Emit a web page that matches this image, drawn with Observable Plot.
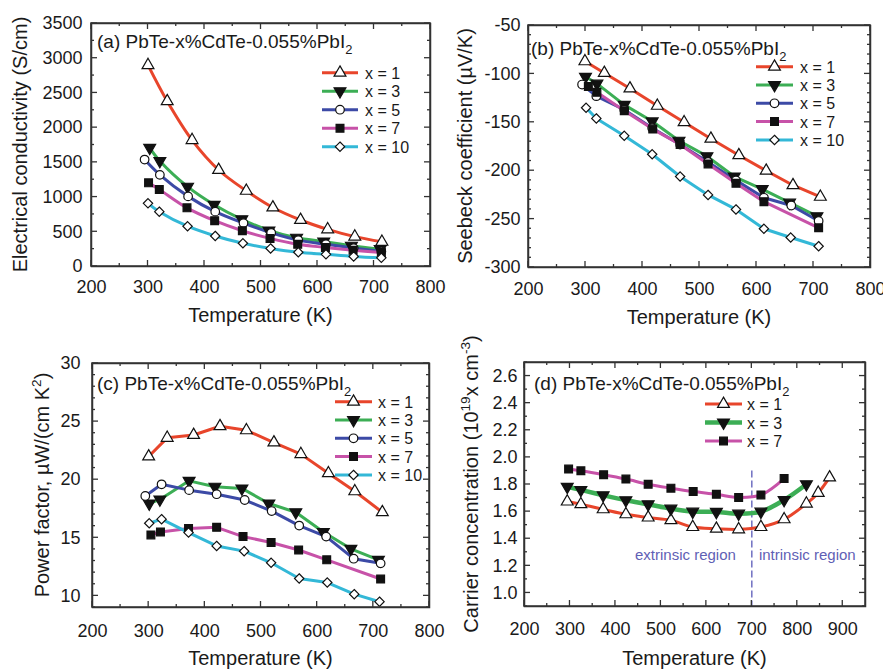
<!DOCTYPE html>
<html><head><meta charset="utf-8">
<script src="https://cdn.jsdelivr.net/npm/d3@7"></script>
<script src="https://cdn.jsdelivr.net/npm/@observablehq/plot@0.6"></script>
<style>
body{margin:0;background:#fff;}
#fig{position:relative;width:883px;height:669px;overflow:hidden;background:#fff;}
.panel{position:absolute;}
.panel svg{overflow:visible;background:transparent;max-width:none;}
</style></head><body><div id="fig"></div>
<script>
// ---------- data ----------
const seriesNames = ["x = 1", "x = 3", "x = 5", "x = 7", "x = 10"];

// (a) electrical conductivity (S/cm)
const condT1 = [300, 334, 378, 425, 474, 521, 570, 618, 666, 714];
const cond1  = [2900, 2380, 1820, 1390, 1090, 850, 670, 535, 430, 355];
const condT3 = [303, 321, 370, 417, 466, 514, 563, 611, 660, 711];
const cond3  = [1710, 1520, 1150, 890, 680, 520, 415, 360, 300, 250];
const condT5 = [294, 321, 371, 419, 469, 518, 566, 615, 664, 713];
const cond5  = [1540, 1320, 1010, 790, 625, 485, 380, 320, 265, 215];
const condT7 = [301, 320, 369, 418, 467, 516, 565, 614, 663, 713];
const cond7  = [1205, 1110, 845, 660, 515, 405, 320, 275, 235, 200];
const condT10 = [300, 320, 370, 419, 468, 517, 566, 615, 664, 713];
const cond10  = [910, 790, 580, 440, 335, 260, 205, 175, 145, 125];

// (b) Seebeck coefficient (µV/K)
const seeT1 = [299, 333, 378, 426, 473, 520, 569, 617, 664, 712];
const see1  = [-87, -99, -115, -133, -150, -167, -184, -200, -215, -227];
const seeT3 = [300, 320, 368, 417, 464, 513, 561, 610, 658, 706];
const see3  = [-103, -110, -132, -149, -169, -185, -206, -219, -233, -247];
const seeT5 = [294, 319, 368, 417, 466, 515, 564, 613, 661, 709];
const see5  = [-111, -123, -137, -156, -173, -191, -210, -228, -236, -252];
const seeT7 = [305, 320, 368, 418, 466, 515, 564, 613, 709];
const see7  = [-113, -119, -138, -157, -173, -193, -213, -232, -259];
const seeT10 = [301, 319, 368, 417, 466, 515, 564, 613, 660, 709];
const see10  = [-135, -146, -164, -183, -206, -225, -240, -260, -269, -278];

// (c) power factor (µW/(cm K^2))
const pfT1 = [300, 333, 380, 427, 474, 523, 571, 620, 667, 716];
const pf1  = [22.0, 23.6, 23.85, 24.6, 24.25, 23.2, 22.2, 20.55, 19.0, 17.2];
const pfT3 = [301, 320, 372, 418, 466, 514, 562, 611, 660, 709];
const pf3  = [17.95, 18.3, 19.9, 19.4, 19.25, 17.95, 17.2, 15.5, 14.05, 13.1];
const pfT5 = [294, 323, 372, 421, 471, 519, 568, 616, 665, 713];
const pf5  = [18.6, 19.6, 19.1, 18.75, 18.25, 17.3, 16.05, 15.1, 13.2, 12.8];
const pfT7 = [304, 321, 371, 421, 468, 518, 567, 617, 713];
const pf7  = [15.25, 15.5, 15.8, 15.9, 15.1, 14.6, 13.95, 13.1, 11.45];
const pfT10 = [301, 323, 371, 421, 470, 518, 568, 618, 666, 711];
const pf10  = [16.25, 16.6, 15.45, 14.3, 13.85, 12.85, 11.5, 11.15, 10.15, 9.5];

// (d) carrier concentration (10^19 cm^-3)
const nT1 = [294, 324, 373, 423, 472, 522, 570, 622, 671, 720, 771, 820, 846, 871];
const n1  = [1.674, 1.654, 1.617, 1.580, 1.556, 1.536, 1.486, 1.474, 1.469, 1.486, 1.543, 1.659, 1.738, 1.852];
const nT3 = [294, 324, 373, 423, 472, 522, 570, 622, 671, 720, 771, 820];
const n3  = [1.783, 1.760, 1.721, 1.684, 1.654, 1.622, 1.600, 1.598, 1.585, 1.600, 1.686, 1.802];
const nT7 = [297, 324, 374, 423, 472, 522, 571, 622, 671, 720, 771];
const n7  = [1.914, 1.901, 1.872, 1.840, 1.802, 1.773, 1.748, 1.728, 1.704, 1.723, 1.844];
const boundaryT = 700;
const boundaryTop = 1.9;
const regionLabels = ["extrinsic region", "intrinsic region"];
const regionT = [554, 822];
const regionN = [1.279, 1.279];

// tick labels
const ticksT8 = [200, 300, 400, 500, 600, 700, 800];
const ticksT9 = [200, 300, 400, 500, 600, 700, 800, 900];
const ticksCond = [0, 500, 1000, 1500, 2000, 2500, 3000, 3500];
const ticksSee = [-300, -250, -200, -150, -100, -50];
const ticksPF = [10, 15, 20, 25, 30];
const ticksN = [1.0, 1.2, 1.4, 1.6, 1.8, 2.0, 2.2, 2.4, 2.6];

// ---------- styles ----------
const FONT = "'Liberation Sans', Arial, Helvetica, sans-serif";
const colors = ["#e8452b", "#3cae55", "#3c4aa6", "#c752a8", "#33b8d7"];
const triDown = {
  draw(context, size) {
    const y = -Math.sqrt(size / (Math.sqrt(3) * 3));
    context.moveTo(0, -y * 2);
    context.lineTo(-Math.sqrt(3) * y, y);
    context.lineTo(Math.sqrt(3) * y, y);
    context.closePath();
  }
};
const symbols = [d3.symbolTriangle, triDown, d3.symbolCircle, d3.symbolSquare, d3.symbolDiamond2];
const fills = ["white", "#111", "white", "#111", "white"];
const radii = [4.4, 4.4, 4.3, 4.4, 4.2];

function series(i, T, v) { return {i, rows: T.map((t, k) => ({T: t, v: v[k]}))}; }

function rich(sel, parts, size) {
  let shift = 0;
  parts.forEach(p => {
    const [str, kind] = Array.isArray(p) ? p : [p, null];
    const target = kind === "sup" ? -0.42 * size : kind === "sub" ? 0.3 * size : 0;
    sel.append("tspan").text(str).attr("dy", target - shift).attr("font-size", kind ? size * 0.68 : size);
    shift = target;
  });
}

function scaleFn(svg, name) {
  const s = svg.scale(name);
  if (s && typeof s.apply === "function") return v => s.apply(v);
  const lin = d3.scaleLinear(s.domain, s.range);
  return v => lin(v);
}

function panel(cfg) {
  const {width, height, ml, mr, mt, mb} = cfg;
  const iw = width - ml - mr, ih = height - mt - mb;
  const marks = [
    ...(cfg.extra || []),
    ...cfg.series.map(s => Plot.line(s.rows, {x: "T", y: "v", stroke: colors[s.i], strokeWidth: (cfg.lw && cfg.lw[s.i]) || 3, curve: cfg.curve})),
    ...cfg.series.map(s => Plot.dot(s.rows, {x: "T", y: "v", symbol: symbols[s.i], r: radii[s.i], fill: fills[s.i], stroke: "#111", strokeWidth: 1.2})),
    Plot.frame({stroke: "#333", strokeWidth: 1.5})
  ];
  const svg = Plot.plot({
    width, height, marginLeft: ml, marginRight: mr, marginTop: mt, marginBottom: mb,
    style: {fontFamily: FONT, fontSize: "18px", color: "#1a1a1a", background: "transparent", overflow: "visible"},
    x: {domain: cfg.xDomain, ticks: cfg.xMajor, tickSize: 0, tickPadding: cfg.xPad, tickFormat: d => String(d), label: null},
    y: {domain: cfg.yDomain, ticks: cfg.yMajor, tickSize: 0, tickPadding: cfg.yPad, tickFormat: cfg.yFormat || (d => String(d)), label: null},
    marks
  });
  const div = d3.select("#fig").append("div").attr("class", "panel")
    .style("left", cfg.left + "px").style("top", cfg.top + "px").style("width", width + "px").style("height", height + "px");
  div.node().appendChild(svg);
  const X = scaleFn(svg, "x"), Y = scaleFn(svg, "y");
  const g = d3.select(svg).append("g").attr("font-family", FONT).attr("fill", "#1a1a1a").attr("text-anchor", "start");
  // inward frame ticks, positioned through the plot's own scales
  const tg = g.append("g").attr("stroke", "#333").attr("stroke-width", 1.3);
  const xt = (vals, len) => vals.forEach(v => {
    const px = X(v);
    tg.append("line").attr("x1", px).attr("x2", px).attr("y1", mt + ih).attr("y2", mt + ih - len);
    tg.append("line").attr("x1", px).attr("x2", px).attr("y1", mt).attr("y2", mt + len);
  });
  const yt = (vals, len) => vals.forEach(v => {
    const py = Y(v);
    tg.append("line").attr("y1", py).attr("y2", py).attr("x1", ml).attr("x2", ml + len);
    tg.append("line").attr("y1", py).attr("y2", py).attr("x1", ml + iw).attr("x2", ml + iw - len);
  });
  xt(cfg.xMajor, 6); xt(cfg.xMinor, 3); yt(cfg.yMajor, 6); yt(cfg.yMinor, 3);
  g.append("rect").attr("x", ml).attr("y", mt).attr("width", iw).attr("height", ih)
    .attr("fill", "none").attr("stroke", "#333").attr("stroke-width", 1.5);
  // panel title
  const t = g.append("text").attr("x", cfg.title[0]).attr("y", cfg.title[1]).attr("text-anchor", "start");
  rich(t, [cfg.label, ["2", "sub"]], 19);
  // axis titles
  const yl = g.append("text").attr("text-anchor", "middle")
    .attr("transform", `translate(${cfg.ylab[0]},${cfg.ylab[1]}) rotate(-90)`);
  rich(yl, cfg.ylabel, 20);
  g.append("text").attr("text-anchor", "middle").attr("x", cfg.xlab[0]).attr("y", cfg.xlab[1])
    .attr("font-size", 20).text("Temperature (K)");
  // legend
  const L = cfg.legend;
  cfg.series.forEach((s, k) => {
    const y = L.y0 + k * L.dy;
    g.append("line").attr("x1", L.x0).attr("x2", L.x1).attr("y1", y).attr("y2", y)
      .attr("stroke", colors[s.i]).attr("stroke-width", (cfg.lw && cfg.lw[s.i]) || 3);
    g.append("path").attr("d", d3.symbol(symbols[s.i], Math.PI * radii[s.i] ** 2)())
      .attr("transform", `translate(${(L.x0 + L.x1) / 2},${y})`)
      .attr("fill", fills[s.i]).attr("stroke", "#111").attr("stroke-width", 1.2);
    g.append("text").attr("x", L.tx).attr("y", y + 6).attr("font-size", 16).attr("text-anchor", "start").text(seriesNames[s.i]);
  });
}

const minorT8 = d3.range(250, 800, 100);
const minorT9 = d3.range(250, 950, 100);

panel({
  left: 0, top: 0, width: 440, height: 330, ml: 91, mr: 10, mt: 23, mb: 64,
  xDomain: [200, 800], yDomain: [0, 3500], xMajor: ticksT8, xMinor: minorT8,
  yMajor: ticksCond, yMinor: d3.range(250, 3500, 500), xPad: 13.5, yPad: 9,
  curve: "catmull-rom",
  series: [series(0, condT1, cond1), series(1, condT3, cond3), series(2, condT5, cond5), series(3, condT7, cond7), series(4, condT10, cond10)],
  label: "(a) PbTe-x%CdTe-0.055%PbI", title: [97, 48],
  ylabel: ["Electrical conductivity (S/cm)"], ylab: [27, 144.5], xlab: [260.5, 322],
  legend: {x0: 322, x1: 358, tx: 365, y0: 72.7, dy: 18.5}
});

panel({
  left: 440, top: 0, width: 443, height: 330, ml: 88, mr: 13, mt: 25, mb: 63,
  xDomain: [200, 800], yDomain: [-300, -50], xMajor: ticksT8, xMinor: minorT8,
  yMajor: ticksSee, yMinor: d3.range(-290, -50, 10).filter(v => v % 50 !== 0), xPad: 14.5, yPad: 8,
  curve: "linear",
  series: [series(0, seeT1, see1), series(1, seeT3, see3), series(2, seeT5, see5), series(3, seeT7, see7), series(4, seeT10, see10)],
  label: "(b) PbTe-x%CdTe-0.055%PbI", title: [91, 55],
  ylabel: ["Seebeck coefficient (\u00b5V/K)"], ylab: [32, 146], xlab: [259, 324],
  legend: {x0: 316, x1: 353, tx: 360, y0: 66.7, dy: 18.3}
});

panel({
  left: 0, top: 330, width: 440, height: 339, ml: 92, mr: 11, mt: 33, mb: 62,
  xDomain: [200, 800], yDomain: [9, 30], xMajor: ticksT8, xMinor: minorT8,
  yMajor: ticksPF, yMinor: d3.range(9, 30, 1).filter(v => v % 5 !== 0), xPad: 16.5, yPad: 12,
  curve: "linear",
  series: [series(0, pfT1, pf1), series(1, pfT3, pf3), series(2, pfT5, pf5), series(3, pfT7, pf7), series(4, pfT10, pf10)],
  label: "(c) PbTe-x%CdTe-0.055%PbI", title: [97, 60],
  ylabel: ["Power factor, \u00b5W/(cm K", ["2", "sup"], ")"], ylab: [49, 155], xlab: [260.5, 335],
  legend: {x0: 335, x1: 372, tx: 378, y0: 71.7, dy: 18.3}
});

panel({
  left: 440, top: 330, width: 443, height: 339, ml: 84, mr: 18, mt: 32, mb: 63,
  xDomain: [200, 950], yDomain: [0.9, 2.7], xMajor: ticksT9, xMinor: minorT9,
  yMajor: ticksN, yMinor: [0.9, 1.1, 1.3, 1.5, 1.7, 1.9, 2.1, 2.3, 2.5, 2.7], xPad: 15.5, yPad: 7,
  yFormat: d3.format(".1f"),
  curve: "catmull-rom", lw: [3, 4.5, 3, 3, 3],
  extra: [
    Plot.ruleX([boundaryT], {x: d => d, y1: boundaryTop, y2: 0.9, stroke: "#5a5ab8", strokeWidth: 1.3, strokeDasharray: "7,3"}),
    Plot.text(regionLabels, {x: (d, i) => regionT[i], y: (d, i) => regionN[i], text: d => d, fill: "#5f5fb5", fontSize: 15})
  ],
  series: [series(0, nT1, n1), series(1, nT3, n3), series(3, nT7, n7)],
  label: "(d) PbTe-x%CdTe-0.055%PbI", title: [94, 60],
  ylabel: ["Carrier concentration (10", ["19", "sup"], "x cm", ["-3", "sup"], ")"], ylab: [38, 154], xlab: [254.5, 335],
  legend: {x0: 265, x1: 302, tx: 307, y0: 74, dy: 18.5}
});
</script></body></html>
